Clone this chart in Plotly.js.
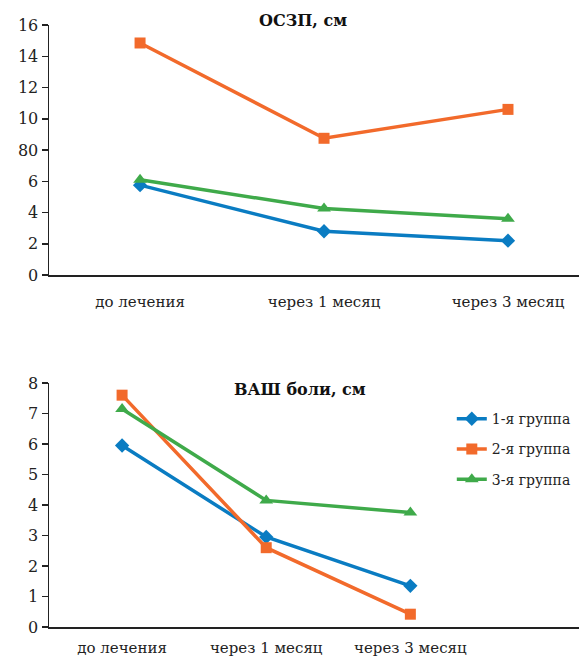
<!DOCTYPE html>
<html>
<head>
<meta charset="utf-8">
<script src="https://cdn.plot.ly/plotly-3.0.1.min.js"></script>
<style>html,body{margin:0;padding:0;background:#fff;}#chart{width:579px;height:659px;}</style>
</head>
<body>
<div id="chart"></div>
<script>
// Categories
const categories = ["до лечения", "через 1 месяц", "через 3 месяц"];
const seriesNames = ["1-я группа", "2-я группа", "3-я группа"];

// Top chart: ОСЗП, см
const topTitle = "ОСЗП, см";
const top_g1 = [5.75, 2.8, 2.2];
const top_g2 = [14.85, 8.75, 10.6];
const top_g3 = [6.1, 4.25, 3.6];
const topTickVals = [0, 2, 4, 6, 8, 10, 12, 14, 16];
const topTickText = ["0", "2", "4", "6", "80", "10", "12", "14", "16"];

// Bottom chart: ВАШ боли, см
const botTitle = "ВАШ боли, см";
const bot_g1 = [5.95, 2.95, 1.35];
const bot_g2 = [7.6, 2.6, 0.42];
const bot_g3 = [7.15, 4.15, 3.75];
const botTickVals = [0, 1, 2, 3, 4, 5, 6, 7, 8];

const colors = ["#0a7cc2", "#f26a2b", "#3faa4a"];
const symbols = ["diamond", "square", "triangle-up"];
const msizes = [11, 11, 12];

const xIdx = categories.map((c, i) => i);
const serif = "DejaVu Serif";

function mk(y, i, xa, ya, show) {
  return {
    x: xIdx, y: y, type: "scatter", mode: "lines+markers",
    name: seriesNames[i], xaxis: xa, yaxis: ya, showlegend: show,
    legendgroup: "g" + i,
    line: {color: colors[i], width: 3.5},
    marker: {color: colors[i], symbol: symbols[i], size: msizes[i]},
    cliponaxis: false
  };
}

const data = [
  mk(top_g1, 0, "x", "y", false),
  mk(top_g2, 1, "x", "y", false),
  mk(top_g3, 2, "x", "y", false),
  mk(bot_g1, 0, "x2", "y2", true),
  mk(bot_g2, 1, "x2", "y2", true),
  mk(bot_g3, 2, "x2", "y2", true)
];

const axLine = {showline: true, linecolor: "#222", linewidth: 1.5, showgrid: false, zeroline: false};

const layout = {
  width: 579, height: 659,
  margin: {l: 49, r: 0, t: 0, b: 32},
  paper_bgcolor: "#fff", plot_bgcolor: "#fff",
  font: {family: serif, size: 15, color: "#222"},
  xaxis: Object.assign({}, axLine, {
    domain: [0, 1], anchor: "y", range: [-0.495, 2.386],
    tickvals: xIdx, ticktext: categories, ticks: "", ticklabelstandoff: 12,
    tickfont: {family: serif, size: 15, color: "#222"}
  }),
  yaxis: Object.assign({}, axLine, {
    domain: [0.5614, 0.9601], anchor: "x", range: [0, 16],
    tickvals: topTickVals, ticktext: topTickText, ticks: "outside", ticklen: 6, tickwidth: 1.5, tickcolor: "#222",
    tickfont: {family: serif, size: 16, color: "#222"}
  }),
  xaxis2: Object.assign({}, axLine, {
    domain: [0, 1], anchor: "y2", range: [-0.507, 3.17],
    tickvals: xIdx, ticktext: categories, ticks: "", ticklabelstandoff: 6,
    tickfont: {family: serif, size: 15, color: "#222"}
  }),
  yaxis2: Object.assign({}, axLine, {
    domain: [0, 0.3892], anchor: "x2", range: [0, 8],
    tickvals: botTickVals, ticks: "outside", ticklen: 6, tickwidth: 1.5, tickcolor: "#222",
    tickfont: {family: serif, size: 16, color: "#222"}
  }),
  legend: {
    x: 0.76, y: 0.357, xanchor: "left", yanchor: "top",
    traceorder: "grouped", tracegroupgap: 9,
    font: {family: serif, size: 14, color: "#222"},
    bgcolor: "rgba(0,0,0,0)"
  },
  annotations: [
    {text: "<b>" + topTitle + "</b>", xref: "paper", yref: "paper", x: 0.479, y: (627 - 20) / 627,
     xanchor: "center", yanchor: "middle", showarrow: false, font: {family: serif, size: 16, color: "#111"}},
    {text: "<b>" + botTitle + "</b>", xref: "paper", yref: "paper", x: 0.474, y: (627 - 389) / 627,
     xanchor: "center", yanchor: "middle", showarrow: false, font: {family: serif, size: 16, color: "#111"}}
  ]
};

Plotly.newPlot("chart", data, layout, {displayModeBar: false, staticPlot: true});
</script>
</body>
</html>
